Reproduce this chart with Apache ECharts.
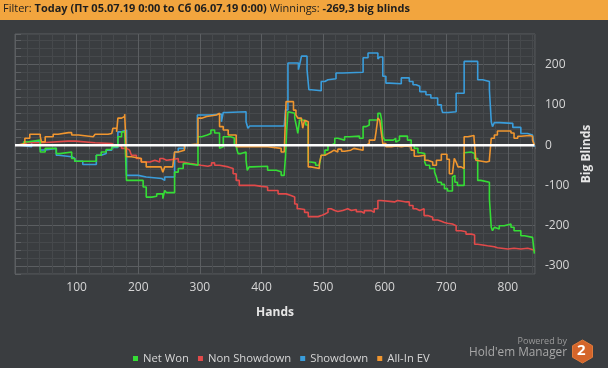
<!DOCTYPE html>
<html>
<head>
<meta charset="utf-8">
<script src="https://cdn.jsdelivr.net/npm/echarts@6/dist/echarts.min.js"></script>
<style>
html,body{margin:0;padding:0;background:#3a3d40;}
#c{width:608px;height:368px;}
</style>
</head>
<body>
<div id="c"></div>
<script>
// ---- data (hand, big blinds) ----
const netWonPoints = [[0,0],[14,8],[19,12.5],[41,-17],[49,-8],[67,-21],[73,-17],[92,-33],[97,-40],[132,-25],[140,-17],[148,-11],[157,-4],[167,21],[173,33],[178,37.5],[181,-87.5],[208,-104],[213,-129],[222,-127],[230,-121],[240,-133],[243,-112.5],[246,-118],[259,-67],[265,-58],[273,-46],[279,-50],[297,21],[303,25],[312,29],[318,37.5],[324,30],[332,-8],[335,-4],[338,21],[350,18],[356,4],[359,-4],[362,-21],[367,-17],[375,-37.5],[377,-62.5],[380,-54],[384,-52.5],[410,-62.5],[424,-66],[432,-75],[437,-70],[439,-29],[441,37.5],[443,83],[446,79],[454,67],[457,46],[459,29],[462,62.5],[467,60],[472,50],[476,-42],[480,-44],[488,-50],[494,-46],[497,-25],[503,-12.5],[508,0],[513,4],[519,17],[524,12.5],[535,21],[543,22.5],[559,17],[565,46],[570,50],[575,62.5],[589,79],[593,81],[595,62.5],[597,21],[600,12.5],[614,17],[618,8],[621,12.5],[624,22.5],[637,12.5],[643,0],[648,-8],[654,-19],[659,-21],[665,-42],[667,-50],[673,-58],[681,-67],[684,-79],[686,-92],[692,-97.5],[697,-108],[702,-114],[710,-79],[712,-75],[714,-92],[718,-100],[729,-19],[732,-17],[740,-21],[746,-33],[751,-87.5],[756,-92],[770,-133],[773,-204],[775,-212.5],[778,-204],[781,-208],[786,-200],[794,-196],[805,-204],[810,-212.5],[816,-217],[819,-212.5],[821,-225],[827,-229],[840,-233],[843,-269.3]];
const nonShowdownPoints = [[0,0],[16,0],[19,6],[43,10],[86,10],[98,6],[130,4],[157,0],[162,-2.5],[173,-8],[181,-12.5],[186,-17],[189,-25],[197,-33],[205,-42],[219,-37.5],[227,-42],[235,-33],[240,-37.5],[246,-36],[254,-33],[265,-42],[273,-46],[286,-50],[302,-52.5],[313,-50],[319,-44],[324,-50],[332,-54],[346,-58],[354,-71],[359,-87.5],[364,-100],[389,-102.5],[400,-104],[410,-112.5],[427,-121],[440,-125],[448,-129],[454,-146],[458,-158],[462,-160],[470,-167],[476,-177.5],[492,-175],[497,-171],[503,-167],[508,-158],[513,-162.5],[519,-165],[524,-162.5],[532,-158],[540,-162.5],[546,-160],[554,-165],[562,-169],[567,-162.5],[578,-167],[583,-158],[589,-137.5],[594,-141],[616,-141],[619,-137.5],[621,-141],[635,-141],[640,-150],[646,-158],[651,-162.5],[657,-158],[664,-175],[670,-179],[678,-186],[686,-189],[692,-192],[697,-194],[702,-196],[710,-200],[716,-212.5],[724,-215],[732,-221],[741,-223],[746,-246],[751,-250],[767,-252.5],[778,-255],[783,-252.5],[786,-258],[800,-256],[810,-258],[821,-256],[832,-258],[837,-261],[843,-264]];
const showdownPoints = [[0,0],[8,-4],[27,8],[41,-12],[49,-8],[67,-25],[71,-29],[92,-33],[97,-40],[110,-48],[132,-25],[140,-21],[148,-12.5],[157,-6],[167,33],[173,37.5],[181,-75],[190,-75],[200,-79],[213,-83],[238,-87.5],[243,-79],[259,-17],[265,-8],[276,0],[296,75],[315,77.5],[335,58],[338,81],[343,83],[375,58],[378,42],[381,47.5],[437,47.5],[439,87.5],[443,204],[460,187.5],[462,200],[465,221],[474,187.5],[477,137.5],[481,135],[497,158],[503,162.5],[508,165],[521,179],[532,181],[565,217],[573,229],[589,214],[592,219],[597,171],[602,154],[608,152.5],[627,167],[640,158],[646,150],[651,146],[657,133],[667,125],[675,117],[686,100],[692,92],[694,81],[703,83],[716,129],[729,208],[746,208],[751,162.5],[759,158],[770,137.5],[773,58],[775,46],[778,56],[786,54],[808,44],[821,29],[832,25],[840,25],[843,-4]];
const allInEVPoints = [[0,0],[5,4],[16,17],[24,27],[41,21],[43,8],[49,21],[62,27],[70,31],[87,31],[92,25],[103,21],[127,21],[130,27],[151,29],[157,33],[159,42],[165,33],[167,67],[173,71],[178,77],[181,-29],[189,-33],[205,-42],[213,-54],[237,-50],[240,-67],[243,-54],[256,-54],[259,-17],[265,-12.5],[275,0],[281,2.5],[297,67],[303,71],[311,75],[327,79],[332,46],[338,37.5],[346,25],[359,-4],[388,-4],[410,-8],[432,-17],[437,-21],[440,108],[452,87],[456,75],[459,67],[465,62],[467,42],[470,62],[473,58],[476,-54],[480,-58],[494,-46],[497,-25],[503,-21],[508,-17],[513,-12.5],[518,-17],[524,-10],[530,-15],[535,-12.5],[545,-8],[550,-12.5],[565,0],[570,4],[575,12.5],[584,17],[586,33],[589,67],[592,62],[594,37],[597,4],[602,-4],[611,-2],[619,-4],[627,-2],[635,-4],[643,-12.5],[648,-27.5],[655,-25],[665,-37.5],[670,-42],[678,-50],[684,-37.5],[692,-22.5],[701,-35],[705,-71],[710,-75],[713,-33],[716,-42],[719,-54],[724,-58],[729,21],[735,24],[745,18],[748,-37.5],[751,-42],[765,-40],[770,-35],[773,17],[778,25],[783,35],[800,35],[805,30],[810,17],[816,22],[821,24],[835,22],[840,12.5],[843,0]];
const zeroLineHands = [0, 843];
const seriesNames = ['Net Won','Non Showdown','Showdown','All-In EV'];
const seriesColors = ['#35dd35','#e24a4a','#3a9ddb','#f0962f'];
const headerParts = ['Filter: ','Today (Пт 05.07.19 0:00 to Сб 06.07.19 0:00)',' Winnings: ','-269,3 big blinds'];

const FONT = 'Open Sans';
const MAJ = '#5b5e61', MIN = '#46494c';
const chart = echarts.init(document.getElementById('c'), null, {renderer:'canvas'});

function lineSeries(name, pts, color, z){
  return {name, type:'line', step:'end', data:pts, symbol:'none', z,
    lineStyle:{color, width:1.6}, itemStyle:{color}, animation:false};
}

chart.setOption({
  backgroundColor:'#3a3d40',
  animation:false,
  grid:{left:15, right:73, top:34, bottom:94, show:true, borderColor:MAJ, borderWidth:1},
  legend:{left:128, top:348, itemWidth:5, itemHeight:5, itemGap:9, icon:'rect',
    textStyle:{color:'#d6d6d6', fontSize:11.3, fontFamily:FONT},
    data:seriesNames},
  xAxis:{type:'value', min:0, max:844, interval:20,
    axisLine:{show:false},
    axisTick:{show:true, length:4, lineStyle:{color:'#5d6063'}},
    axisLabel:{interval:0, color:'#d6d6d6', fontSize:12, fontFamily:FONT, margin:8,
      formatter:v => (v % 100 === 0 && v > 0) ? String(v) : ''},
    splitLine:{show:true, lineStyle:{color:[MAJ,MIN,MIN,MIN,MIN], width:1}},
    name:'Hands', nameLocation:'middle', nameGap:33,
    nameTextStyle:{color:'#e6e6e6', fontWeight:'bold', fontSize:12, fontFamily:FONT}},
  yAxis:{type:'value', position:'right', min:-320, max:276, interval:20,
    axisLine:{show:false},
    axisTick:{show:true, length:6, lineStyle:{color:'#5d6063'}},
    axisLabel:{interval:0, color:'#d6d6d6', fontSize:12, fontFamily:FONT, margin:10,
      formatter:v => (v % 100 === 0) ? String(v) : ''},
    splitLine:{show:true, lineStyle:{color:[MIN,MAJ,MIN,MIN,MIN], width:1}},
    name:'Big Blinds', nameLocation:'middle', nameGap:42, nameRotate:90,
    nameTextStyle:{color:'#e6e6e6', fontWeight:'bold', fontSize:12, fontFamily:FONT}},
  series:[
    lineSeries(seriesNames[2], showdownPoints, seriesColors[2], 2),
    lineSeries(seriesNames[1], nonShowdownPoints, seriesColors[1], 3),
    lineSeries(seriesNames[0], netWonPoints, seriesColors[0], 4),
    lineSeries(seriesNames[3], allInEVPoints, seriesColors[3], 5),
    {name:'zero', type:'line', data:zeroLineHands.map(h => [h, 0]), symbol:'none', z:6,
      lineStyle:{color:'#ffffff', width:2.5}, silent:true, animation:false}
  ],
  graphic:[
    {type:'rect', left:0, top:0, shape:{width:608, height:20}, style:{fill:'#f2a53e'}, z:10},
    {type:'text', left:3, top:3, z:11, style:{
      text:'{n|'+headerParts[0]+'}{b|'+headerParts[1]+'}{n|'+headerParts[2]+'}{b|'+headerParts[3]+'}',
      rich:{n:{fontSize:11, fontFamily:FONT, fill:'#1e1e1e'}, b:{fontSize:11, fontFamily:FONT, fontWeight:'bold', fill:'#1e1e1e'}}}},
    {type:'text', right:41, top:337, z:11, style:{text:'Powered by', fontSize:9, fontFamily:FONT, fill:'#9a9a9a'}},
    {type:'text', right:41, top:347, z:11, style:{text:"Hold'em Manager", fontSize:11.8, fontFamily:FONT, fill:'#a8a8a8'}},
    {type:'polygon', z:11, shape:{points:[[582.5,340],[592.5,345.75],[592.5,357.25],[582.5,363],[572.5,357.25],[572.5,345.75]]}, style:{fill:'#d4652b', stroke:'#e07a3a', lineWidth:1}},
    {type:'text', left:577, top:343, z:12, style:{text:'2', fontSize:15, fontWeight:'bold', fontFamily:FONT, fill:'#ffffff'}}
  ]
});
</script>
</body>
</html>
